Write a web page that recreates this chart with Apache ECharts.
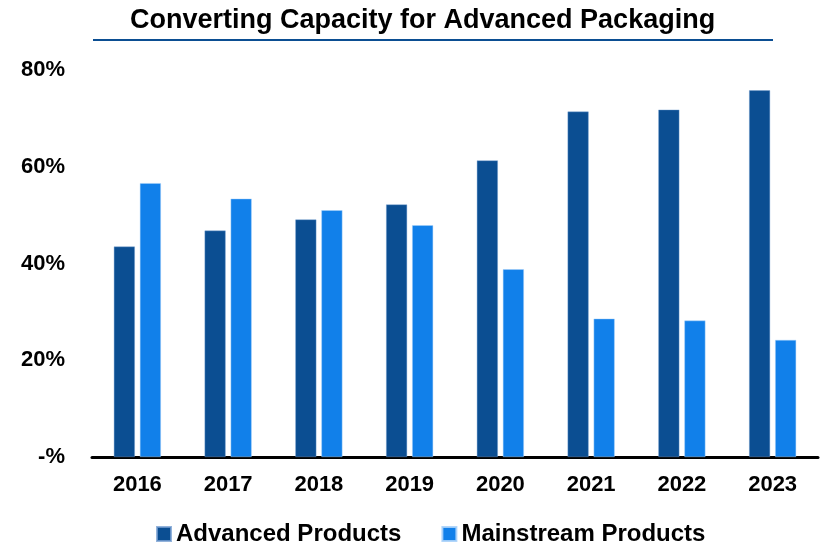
<!DOCTYPE html>
<html>
<head>
<meta charset="utf-8">
<script src="https://cdn.jsdelivr.net/npm/echarts@6/dist/echarts.min.js"></script>
<style>
html,body{margin:0;padding:0;background:#fff;}
#chart{width:823px;height:546px;}
</style>
</head>
<body>
<div id="chart"></div>
<script>
const categories = ['2016','2017','2018','2019','2020','2021','2022','2023'];
const advanced = [43.5, 46.8, 49.1, 52.2, 61.3, 71.4, 71.8, 75.8];
const mainstream = [56.6, 53.4, 51.0, 47.9, 38.8, 28.6, 28.2, 24.2];
const yTicks = [0, 20, 40, 60, 80];

const chart = echarts.init(document.getElementById('chart'));
const font = 'Liberation Sans, Arial, sans-serif';
chart.setOption({
  animation: false,
  title: {
    text: 'Converting Capacity for Advanced Packaging',
    left: 125,
    top: 2,
    textStyle: {fontFamily: font, fontSize: 27, fontWeight: 'bold', color: '#000'}
  },
  graphic: [{
    type: 'line',
    shape: {x1: 93, y1: 40, x2: 773, y2: 40},
    style: {stroke: '#0B4E92', lineWidth: 2}
  }],
  legend: {
    top: 517,
    left: 151,
    itemWidth: 14,
    itemHeight: 14,
    itemGap: 40,
    icon: 'rect',
    textStyle: {fontFamily: font, fontSize: 24, fontWeight: 'bold', color: '#000'},
    data: ['Advanced Products', 'Mainstream Products']
  },
  grid: {left: 92, right: 5, top: 70, bottom: 89, containLabel: false},
  xAxis: {
    type: 'category',
    data: categories,
    axisLine: {lineStyle: {color: '#000', width: 3}},
    axisTick: {show: false},
    axisLabel: {fontFamily: font, fontSize: 22, fontWeight: 'bold', color: '#000', margin: 17}
  },
  yAxis: {
    type: 'value',
    min: yTicks[0],
    max: yTicks[yTicks.length - 1],
    interval: 20,
    splitLine: {show: false},
    axisLine: {show: false},
    axisTick: {show: false},
    axisLabel: {
      fontFamily: font, fontSize: 22, fontWeight: 'bold', color: '#000', margin: 27,
      formatter: v => v === 0 ? '-%' : v + '%'
    }
  },
  series: [
    {
      name: 'Advanced Products',
      type: 'bar',
      data: advanced,
      barWidth: 21,
      barGap: '24%',
      itemStyle: {color: '#0B4E92', borderColor: 'rgba(120,160,210,0.8)', borderWidth: 0.5}
    },
    {
      name: 'Mainstream Products',
      type: 'bar',
      data: mainstream,
      barWidth: 21,
      itemStyle: {color: '#1180EA', borderColor: 'rgba(170,210,250,0.9)', borderWidth: 0.5}
    }
  ]
});
</script>
</body>
</html>
